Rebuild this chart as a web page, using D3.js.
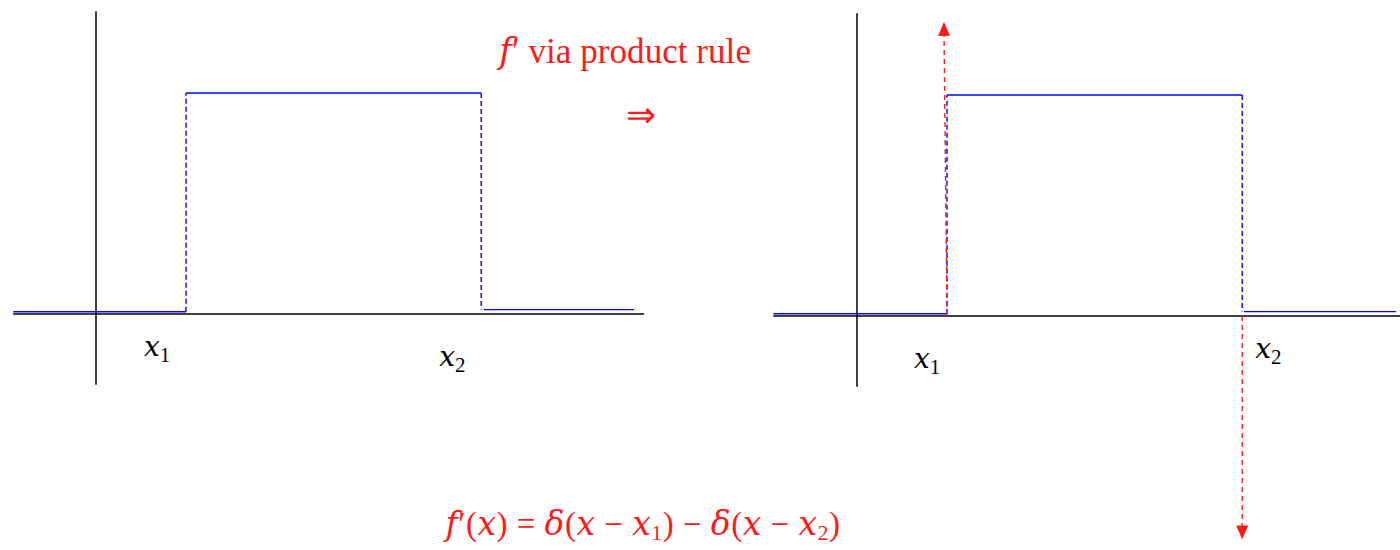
<!DOCTYPE html>
<html>
<head>
<meta charset="utf-8">
<script src="https://cdn.jsdelivr.net/npm/d3@7"></script>
<style>
  body { margin: 0; background: #fff; }
</style>
</head>
<body>
<svg id="chart"></svg>
<script>
// step edges (x1, x2) in axis units
const stepEdges = [1, 4.28];
// function pieces [from, to, level] for left and right panels
const leftPieces = [[-0.92, 1, 0.01], [1, 4.28, 1], [4.31, 5.98, 0.02]];
const rightPieces = [[-0.93, 1, 0.01], [1, 4.28, 1], [4.3, 5.99, 0.02]];
// axes extents [xmin, xmax, ymin, ymax]
const leftAxes = [-0.92, 6.09, -0.32, 1.37];
const rightAxes = [-0.93, 6.05, -0.32, 1.37];
// delta spikes: [x at base, x at tip, height]
const deltas = [[1, 0.967, 1.33], [4.28, 4.28, -1.01]];
const tickLabels = ["x", "x"];
const tickSubs = ["1", "2"];

const W = 1400, H = 550;
const blue = "#0000ff", red = "#ff1a1a";
const serif = "'Liberation Serif', 'Times New Roman', serif";
const ital = "'DejaVu Serif', serif";

const svg = d3.select("#chart").attr("width", W).attr("height", H);

const defs = svg.append("defs");
defs.append("marker")
    .attr("id", "head")
    .attr("viewBox", "0 0 10 10")
    .attr("refX", 2).attr("refY", 5)
    .attr("markerWidth", 14).attr("markerHeight", 12)
    .attr("markerUnits", "userSpaceOnUse")
    .attr("orient", "auto")
    .attr("preserveAspectRatio", "none")
    .append("path")
    .attr("d", "M0,0 L10,5 L0,10 Z")
    .attr("fill", red);

function panel(originX, originY, pieces, axes, labelPos, withDeltas) {
    const x = d3.scaleLinear().domain([0, 1]).range([originX, originX + 90]);
    const y = d3.scaleLinear().domain([0, 1]).range([originY, originY - 221]);
    const g = svg.append("g");

    // axes
    g.append("line")
        .attr("x1", x(axes[0])).attr("x2", x(axes[1]))
        .attr("y1", y(0)).attr("y2", y(0))
        .attr("stroke", "#000").attr("stroke-width", 1.5);
    g.append("line")
        .attr("x1", x(0)).attr("x2", x(0))
        .attr("y1", y(axes[2])).attr("y2", y(axes[3]))
        .attr("stroke", "#000").attr("stroke-width", 1.5);

    // horizontal pieces
    g.selectAll(".piece").data(pieces).join("line")
        .attr("class", "piece")
        .attr("x1", d => x(d[0])).attr("x2", d => x(d[1]))
        .attr("y1", d => y(d[2])).attr("y2", d => y(d[2]))
        .attr("stroke", blue).attr("stroke-width", 1.4);

    // dashed jumps
    const jumps = [[pieces[0][1], pieces[0][2], pieces[1][2]],
                   [pieces[1][1], pieces[1][2], pieces[2][2]]];
    g.selectAll(".jump").data(jumps).join("line")
        .attr("class", "jump")
        .attr("x1", d => x(d[0])).attr("x2", d => x(d[0]))
        .attr("y1", d => y(d[1])).attr("y2", d => y(d[2]))
        .attr("stroke", blue).attr("stroke-width", 1.4)
        .attr("stroke-dasharray", "5,3");

    if (withDeltas) {
        g.selectAll(".delta").data(deltas).join("line")
            .attr("class", "delta")
            .attr("x1", d => x(d[0])).attr("y1", y(0))
            .attr("x2", d => x(d[1]))
            .attr("y2", d => y(d[2]) + (d[2] > 0 ? 11 : -11))
            .attr("stroke", red).attr("stroke-width", 1.4)
            .attr("stroke-dasharray", "5,4")
            .attr("marker-end", "url(#head)");
    }

    // tick labels
    tickLabels.forEach((t, i) => {
        const txt = g.append("text")
            .attr("x", x(labelPos[i][0])).attr("y", y(labelPos[i][1]))
            .attr("text-anchor", "middle")
            .attr("font-family", serif)
            .attr("font-size", 28);
        txt.append("tspan").attr("font-family", ital).attr("font-style", "italic").text(t);
        txt.append("tspan").attr("font-size", 21).attr("dy", 6).text(tickSubs[i]);
    });
}

panel(96, 314, leftPieces, leftAxes, [[0.68, -0.19], [3.96, -0.235]], false);
panel(857, 316, rightPieces, rightAxes, [[0.78, -0.235], [4.57, -0.19]], true);

// spread text to a target width by letter-spacing
function fitWidth(sel, target) {
    const n = sel.text().length;
    const w = sel.node().getBBox().width;
    sel.attr("letter-spacing", (target - w) / n);
}

// annotations
const t1 = svg.append("text").attr("x", 625).attr("y", 63)
    .attr("text-anchor", "middle").attr("font-size", 35)
    .attr("font-family", serif).attr("fill", red);
t1.append("tspan").attr("font-family", ital).attr("font-style", "italic").text("f");
t1.append("tspan").text("′ via product rule");
fitWidth(t1, 255);

svg.append("text").attr("x", 641).attr("y", 127)
    .attr("text-anchor", "middle").attr("font-size", 36)
    .attr("font-family", serif).attr("fill", red)
    .text("⇒");

const t2 = svg.append("text").attr("x", 643).attr("y", 535)
    .attr("text-anchor", "middle").attr("font-size", 33)
    .attr("font-family", serif).attr("fill", red);
const parts = [
    ["f", "i"], ["′(", "n"], ["x", "i"], [") = ", "n"], ["δ", "i"], ["(", "n"],
    ["x", "i"], [" − ", "n"], ["x", "i"], ["1", "s"], [") − ", "n"], ["δ", "i"], ["(", "n"],
    ["x", "i"], [" − ", "n"], ["x", "i"], ["2", "s"], [")", "n"]
];
let sub = false;
parts.forEach(p => {
    const ts = t2.append("tspan").text(p[0]);
    if (p[1] === "i") ts.attr("font-family", ital).attr("font-style", "italic");
    if (p[1] === "s") { ts.attr("font-size", 22).attr("dy", 5); sub = true; }
    else if (sub) { ts.attr("dy", -5); sub = false; }
});
fitWidth(t2, 398);
</script>
</body>
</html>
